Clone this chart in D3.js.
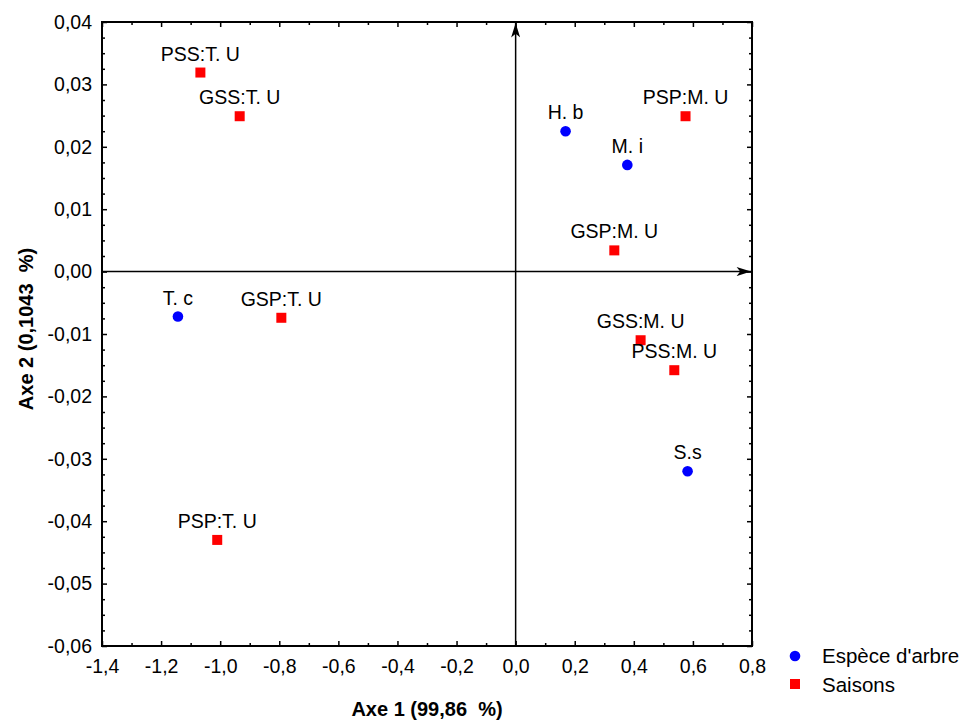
<!DOCTYPE html>
<html><head><meta charset="utf-8">
<script src="https://cdn.jsdelivr.net/npm/d3@7"></script>
<style>
body{margin:0;background:#fff;}
text{font-family:Arial,"Liberation Sans",sans-serif;fill:#000;}
</style></head>
<body><svg id="chart" width="965" height="722"></svg>
<script>
// ---- data ----
const speciesNames = ["H. b", "M. i", "T. c", "S.s"];
const speciesX = [0.169, 0.378, -1.143, 0.582];
const speciesY = [0.0225, 0.0171, -0.0072, -0.0320];

const seasonNames = ["PSS:T. U", "GSS:T. U", "PSP:M. U", "GSP:M. U", "GSP:T. U", "GSS:M. U", "PSS:M. U", "PSP:T. U"];
const seasonX = [-1.067, -0.934, 0.575, 0.334, -0.793, 0.423, 0.537, -1.010];
const seasonY = [0.0319, 0.0249, 0.0249, 0.0034, -0.0074, -0.0110, -0.0158, -0.0430];

const xTicks = [-1.4, -1.2, -1.0, -0.8, -0.6, -0.4, -0.2, 0.0, 0.2, 0.4, 0.6, 0.8];
const yTicks = [-0.06, -0.05, -0.04, -0.03, -0.02, -0.01, 0.0, 0.01, 0.02, 0.03, 0.04];
const legendLabels = ["Espèce d'arbre", "Saisons"];
const xTitle = "Axe 1 (99,86  %)";
const yTitle = "Axe 2 (0,1043  %)";

// ---- layout ----
const L = 102, R = 752, T = 22, B = 646;
const svg = d3.select("#chart");
const x = d3.scaleLinear().domain([-1.4, 0.8]).range([L, R]);
const y = d3.scaleLinear().domain([-0.06, 0.04]).range([B, T]);
const loc = d3.formatLocale({decimal: ",", thousands: " ", grouping: [3], currency: ["", ""], minus: "-"});
const fx = loc.format(".1f"), fy = loc.format(".2f");

const xMinor = d3.range(0, xTicks.length - 1).map(i => (xTicks[i] + xTicks[i + 1]) / 2);
const yMinor = [];
for (let i = 0; i < yTicks.length - 1; i++) for (let k = 1; k < 4; k++) yMinor.push(yTicks[i] + k * (yTicks[i + 1] - yTicks[i]) / 4);

function styleAxis(g, fs) {
  g.select(".domain").remove();
  g.selectAll(".tick line").attr("stroke", "#000").attr("stroke-width", 1.5);
  g.selectAll(".tick text").style("font-size", fs).attr("fill", "#000");
}
const TF = "19.5px";
// bottom
svg.append("g").attr("transform", `translate(0,${B})`)
  .call(d3.axisBottom(x).tickValues(xTicks).tickSizeInner(-5).tickPadding(13).tickFormat(fx))
  .call(g => styleAxis(g, TF));
svg.append("g").attr("transform", `translate(0,${B})`)
  .call(d3.axisBottom(x).tickValues(xMinor).tickSizeInner(-3).tickFormat(""))
  .call(g => styleAxis(g, TF));
// top
svg.append("g").attr("transform", `translate(0,${T})`)
  .call(d3.axisTop(x).tickValues(xTicks).tickSizeInner(-5).tickFormat(""))
  .call(g => styleAxis(g, TF));
svg.append("g").attr("transform", `translate(0,${T})`)
  .call(d3.axisTop(x).tickValues(xMinor).tickSizeInner(-3).tickFormat(""))
  .call(g => styleAxis(g, TF));
// left
svg.append("g").attr("transform", `translate(${L},0)`)
  .call(d3.axisLeft(y).tickValues(yTicks).tickSizeInner(-5).tickPadding(10).tickFormat(fy))
  .call(g => styleAxis(g, TF));
svg.append("g").attr("transform", `translate(${L},0)`)
  .call(d3.axisLeft(y).tickValues(yMinor).tickSizeInner(-3).tickFormat(""))
  .call(g => styleAxis(g, TF));
// right
svg.append("g").attr("transform", `translate(${R},0)`)
  .call(d3.axisRight(y).tickValues(yTicks).tickSizeInner(-5).tickFormat(""))
  .call(g => styleAxis(g, TF));
svg.append("g").attr("transform", `translate(${R},0)`)
  .call(d3.axisRight(y).tickValues(yMinor).tickSizeInner(-3).tickFormat(""))
  .call(g => styleAxis(g, TF));

// frame
svg.append("rect").attr("x", L).attr("y", T).attr("width", R - L).attr("height", B - T)
  .attr("fill", "none").attr("stroke", "#000").attr("stroke-width", 2);

// crosshair with arrows
const defs = svg.append("defs");
defs.append("marker").attr("id", "arr").attr("viewBox", "0 0 16 10").attr("refX", 16).attr("refY", 5)
  .attr("markerWidth", 16).attr("markerHeight", 9).attr("markerUnits", "userSpaceOnUse").attr("orient", "auto")
  .append("path").attr("d", "M0,0 L16,5 L0,10 L4,5 Z").attr("fill", "#000");
svg.append("line").attr("x1", x(0)).attr("x2", x(0)).attr("y1", B).attr("y2", T + 1)
  .attr("stroke", "#000").attr("stroke-width", 1.5).attr("marker-end", "url(#arr)");
svg.append("line").attr("x1", L).attr("x2", R - 1).attr("y1", y(0)).attr("y2", y(0))
  .attr("stroke", "#000").attr("stroke-width", 1.5).attr("marker-end", "url(#arr)");

// points
const species = speciesNames.map((n, i) => ({n, x: speciesX[i], y: speciesY[i]}));
const seasons = seasonNames.map((n, i) => ({n, x: seasonX[i], y: seasonY[i]}));
svg.append("g").selectAll("circle").data(species).join("circle")
  .attr("cx", d => x(d.x)).attr("cy", d => y(d.y)).attr("r", 5.3).attr("fill", "#0000ff");
svg.append("g").selectAll("rect").data(seasons).join("rect")
  .attr("x", d => x(d.x) - 5).attr("y", d => y(d.y) - 5).attr("width", 10).attr("height", 10).attr("fill", "#ff0000");
svg.append("g").selectAll("text").data(species.concat(seasons)).join("text")
  .attr("x", d => x(d.x)).attr("y", d => y(d.y) - 12).attr("text-anchor", "middle")
  .style("font-size", "19.5px").text(d => d.n);

// titles
svg.append("text").attr("x", 427).attr("y", 716).attr("text-anchor", "middle")
  .style("font-size", "20px").style("font-weight", "bold").style("white-space", "pre").text(xTitle);
svg.append("text").attr("transform", `translate(33,329) rotate(-90)`).attr("text-anchor", "middle")
  .style("font-size", "20px").style("font-weight", "bold").style("white-space", "pre").text(yTitle);

// legend
const lg = svg.append("g");
lg.append("circle").attr("cx", 795).attr("cy", 656).attr("r", 5.3).attr("fill", "#0000ff");
lg.append("rect").attr("x", 790).attr("y", 679).attr("width", 10).attr("height", 10).attr("fill", "#ff0000");
lg.selectAll("text").data(legendLabels).join("text")
  .attr("x", 822).attr("y", (d, i) => 663 + i * 29).style("font-size", "20.5px").text(d => d);
</script></body></html>
